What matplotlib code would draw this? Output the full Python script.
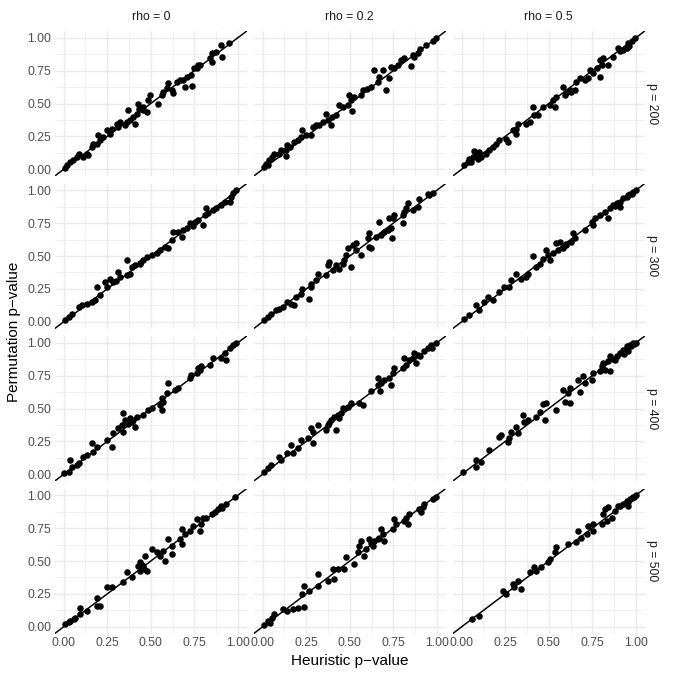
import matplotlib
matplotlib.use("Agg")
import matplotlib.pyplot as plt

plt.rcParams['font.family'] = ['Liberation Sans', 'DejaVu Sans']

col_labels = ["rho = 0", "rho = 0.2", "rho = 0.5"]
row_labels = ["p = 200", "p = 300", "p = 400", "p = 500"]
tick_vals = [0.0, 0.25, 0.5, 0.75, 1.0]
tick_text = ["0.00", "0.25", "0.50", "0.75", "1.00"]

# ---- p = 200 ----
x_p200_r0 = [0.947, 0.90, 0.872, 0.853, 0.91, 0.838, 0.848, 0.771, 0.762, 0.749, 0.733, 0.737, 0.705, 0.686, 0.695, 0.667, 0.648,
             0.60, 0.59, 0.571, 0.629, 0.562, 0.543, 0.495, 0.486, 0.476, 0.457, 0.429, 0.434, 0.423, 0.40, 0.41, 0.371, 0.381, 0.362,
             0.324, 0.314, 0.305, 0.276, 0.248, 0.229, 0.20, 0.21, 0.19, 0.171, 0.162, 0.133, 0.143, 0.114, 0.086, 0.076, 0.057, 0.038, 0.019, 0.01,
             0.455, 0.35, 0.265, 0.62, 0.78]
y_p200_r0 = [0.957, 0.945, 0.893, 0.88, 0.855, 0.843, 0.817, 0.792, 0.772, 0.766, 0.716, 0.635, 0.703, 0.678, 0.627, 0.678, 0.665,
             0.652, 0.614, 0.589, 0.576, 0.563, 0.50, 0.563, 0.525, 0.437, 0.475, 0.50, 0.462, 0.424, 0.398, 0.348, 0.449, 0.373, 0.36,
             0.36, 0.322, 0.348, 0.31, 0.297, 0.246, 0.259, 0.221, 0.195, 0.195, 0.17, 0.119, 0.107, 0.094, 0.119, 0.094, 0.069, 0.056, 0.03, 0.01,
             0.45, 0.34, 0.27, 0.60, 0.79]

x_p200_r2 = [0.994, 0.975, 0.937, 0.904, 0.889, 0.87, 0.851, 0.813, 0.793, 0.774, 0.755, 0.736, 0.727, 0.707, 0.688, 0.641, 0.669, 0.66,
             0.621, 0.574, 0.564, 0.526, 0.497, 0.507, 0.488, 0.459, 0.44, 0.511, 0.421, 0.40, 0.363, 0.373, 0.392, 0.344, 0.325, 0.306,
             0.287, 0.277, 0.229, 0.22, 0.201, 0.182, 0.143, 0.134, 0.105, 0.096, 0.067, 0.057, 0.134, 0.038, 0.019, 0.029, 0.006,
             0.25, 0.16, 0.60, 0.86]
y_p200_r2 = [0.995, 0.975, 0.944, 0.914, 0.881, 0.855, 0.787, 0.848, 0.83, 0.792, 0.766, 0.779, 0.69, 0.60, 0.754, 0.754, 0.703, 0.665,
             0.627, 0.60, 0.563, 0.551, 0.563, 0.525, 0.487, 0.475, 0.487, 0.442, 0.411, 0.398, 0.424, 0.373, 0.335, 0.36, 0.335, 0.335,
             0.322, 0.259, 0.297, 0.246, 0.221, 0.208, 0.183, 0.145, 0.145, 0.119, 0.119, 0.094, 0.10, 0.069, 0.043, 0.03, 0.018,
             0.26, 0.17, 0.61, 0.87]

x_p200_r5 = [0.994, 0.975, 0.956, 0.946, 0.927, 0.898, 0.869, 0.841, 0.812, 0.793, 0.802, 0.774, 0.735, 0.754, 0.793, 0.726, 0.706, 0.678,
             0.658, 0.651, 0.63, 0.601, 0.582, 0.591, 0.543, 0.524, 0.534, 0.505, 0.466, 0.438, 0.409, 0.418, 0.39, 0.37, 0.322, 0.313,
             0.294, 0.313, 0.265, 0.255, 0.217, 0.198, 0.179, 0.159, 0.14, 0.102, 0.083, 0.073, 0.063, 0.044, 0.035, 0.015, 0.054, 0.111, 0.092,
             0.96, 0.91, 0.62]
y_p200_r5 = [0.995, 0.975, 0.957, 0.919, 0.906, 0.924, 0.855, 0.792, 0.843, 0.83, 0.792, 0.766, 0.754, 0.728, 0.703, 0.69, 0.678, 0.69,
             0.665, 0.60, 0.589, 0.576, 0.627, 0.563, 0.551, 0.525, 0.475, 0.487, 0.475, 0.411, 0.475, 0.411, 0.36, 0.348, 0.348, 0.31,
             0.297, 0.272, 0.208, 0.234, 0.221, 0.195, 0.17, 0.145, 0.119, 0.132, 0.119, 0.137, 0.094, 0.081, 0.056, 0.03, 0.056, 0.094, 0.081,
             0.94, 0.90, 0.60]

# ---- p = 300 ----
x_p300_r0 = [0.99, 0.971, 0.962, 0.952, 0.924, 0.905, 0.876, 0.857, 0.819, 0.829, 0.81, 0.80, 0.771, 0.752, 0.724, 0.705, 0.686, 0.676,
             0.657, 0.629, 0.619, 0.60, 0.581, 0.552, 0.533, 0.505, 0.476, 0.457, 0.438, 0.41, 0.39, 0.362, 0.381, 0.362, 0.314, 0.324,
             0.286, 0.267, 0.248, 0.238, 0.21, 0.19, 0.181, 0.162, 0.133, 0.105, 0.086, 0.048, 0.029, 0.01,
             0.74, 0.44, 0.3]
y_p300_r0 = [1.0, 0.975, 0.949, 0.906, 0.911, 0.886, 0.861, 0.848, 0.861, 0.823, 0.81, 0.734, 0.772, 0.759, 0.747, 0.709, 0.696, 0.646,
             0.684, 0.684, 0.62, 0.557, 0.57, 0.544, 0.519, 0.506, 0.494, 0.468, 0.443, 0.43, 0.418, 0.468, 0.367, 0.354, 0.38, 0.342,
             0.304, 0.329, 0.266, 0.304, 0.203, 0.266, 0.165, 0.152, 0.139, 0.127, 0.114, 0.063, 0.038, 0.013,
             0.73, 0.45, 0.31]

x_p300_r2 = [0.975, 0.956, 0.946, 0.899, 0.889, 0.832, 0.822, 0.813, 0.803, 0.755, 0.746, 0.727, 0.669, 0.803, 0.736, 0.717, 0.698, 0.74,
             0.679, 0.65, 0.612, 0.602, 0.621, 0.612, 0.535, 0.516, 0.488, 0.535, 0.564, 0.478, 0.468, 0.459, 0.507, 0.44, 0.382, 0.373,
             0.402, 0.363, 0.315, 0.306, 0.277, 0.277, 0.229, 0.22, 0.268, 0.191, 0.162, 0.143, 0.182, 0.096, 0.076, 0.048, 0.029, 0.01,
             0.86, 0.42, 0.12]
y_p300_r2 = [0.975, 0.962, 0.967, 0.932, 0.873, 0.899, 0.861, 0.835, 0.81, 0.81, 0.785, 0.785, 0.759, 0.747, 0.709, 0.696, 0.684, 0.638,
             0.658, 0.646, 0.671, 0.633, 0.557, 0.57, 0.595, 0.582, 0.557, 0.544, 0.506, 0.506, 0.468, 0.443, 0.418, 0.405, 0.456, 0.43,
             0.392, 0.354, 0.367, 0.316, 0.291, 0.266, 0.253, 0.215, 0.177, 0.19, 0.139, 0.152, 0.127, 0.101, 0.089, 0.063, 0.038, 0.013,
             0.85, 0.43, 0.11]

x_p300_r5 = [1.0, 0.985, 0.965, 0.946, 0.927, 0.908, 0.889, 0.908, 0.869, 0.85, 0.822, 0.841, 0.793, 0.764, 0.745, 0.754, 0.706, 0.639,
             0.649, 0.63, 0.601, 0.582, 0.562, 0.543, 0.553, 0.524, 0.486, 0.495, 0.505, 0.466, 0.409, 0.447, 0.428, 0.38, 0.37, 0.313,
             0.342, 0.284, 0.274, 0.246, 0.217, 0.179, 0.15, 0.131, 0.083, 0.102, 0.044, 0.015,
             0.975, 0.955, 0.88, 0.60]
y_p300_r5 = [1.0, 0.987, 0.967, 0.949, 0.937, 0.911, 0.899, 0.873, 0.886, 0.861, 0.835, 0.785, 0.81, 0.785, 0.759, 0.734, 0.696, 0.671,
             0.633, 0.608, 0.582, 0.557, 0.608, 0.595, 0.544, 0.519, 0.544, 0.506, 0.468, 0.481, 0.501, 0.443, 0.418, 0.367, 0.342, 0.367,
             0.329, 0.316, 0.266, 0.266, 0.228, 0.165, 0.19, 0.152, 0.127, 0.089, 0.051, 0.025,
             0.97, 0.96, 0.88, 0.59]

# ---- p = 400 ----
x_p400_r0 = [0.99, 0.971, 0.952, 0.924, 0.933, 0.905, 0.857, 0.838, 0.79, 0.771, 0.762, 0.733, 0.724, 0.657, 0.638, 0.60, 0.59, 0.562,
             0.571, 0.552, 0.562, 0.505, 0.486, 0.457, 0.419, 0.40, 0.343, 0.352, 0.381, 0.333, 0.41, 0.314, 0.343, 0.286, 0.248, 0.276,
             0.19, 0.162, 0.171, 0.133, 0.114, 0.086, 0.038, 0.048, 0.029, 0.0,
             0.37, 0.39, 0.08, 0.78]
y_p400_r0 = [1.0, 0.985, 0.959, 0.921, 0.871, 0.883, 0.883, 0.832, 0.82, 0.807, 0.769, 0.756, 0.731, 0.655, 0.642, 0.693, 0.617, 0.579,
             0.553, 0.528, 0.49, 0.503, 0.49, 0.452, 0.439, 0.414, 0.464, 0.414, 0.426, 0.376, 0.363, 0.35, 0.325, 0.312, 0.261, 0.211,
             0.211, 0.236, 0.173, 0.147, 0.135, 0.084, 0.109, 0.058, 0.02, 0.008,
             0.38, 0.40, 0.07, 0.79]

x_p400_r2 = [0.994, 0.966, 0.946, 0.927, 0.889, 0.87, 0.86, 0.88, 0.841, 0.813, 0.822, 0.803, 0.755, 0.746, 0.727, 0.736, 0.698, 0.66,
             0.679, 0.66, 0.675, 0.621, 0.574, 0.555, 0.507, 0.488, 0.459, 0.449, 0.43, 0.411, 0.392, 0.373, 0.421, 0.363, 0.315, 0.277,
             0.287, 0.287, 0.258, 0.22, 0.162, 0.201, 0.172, 0.143, 0.096, 0.105, 0.048, 0.029, 0.01,
             0.97, 0.90, 0.44, 0.38]
y_p400_r2 = [1.0, 0.985, 0.959, 0.934, 0.909, 0.921, 0.883, 0.845, 0.871, 0.883, 0.832, 0.807, 0.807, 0.769, 0.731, 0.68, 0.718, 0.731,
             0.693, 0.68, 0.635, 0.629, 0.528, 0.541, 0.541, 0.515, 0.503, 0.464, 0.452, 0.439, 0.414, 0.376, 0.338, 0.338, 0.376, 0.35,
             0.325, 0.236, 0.274, 0.261, 0.223, 0.198, 0.16, 0.16, 0.135, 0.109, 0.071, 0.046, 0.02,
             0.96, 0.90, 0.43, 0.39]

x_p400_r5 = [1.0, 0.985, 0.965, 0.946, 0.927, 0.956, 0.908, 0.889, 0.85, 0.869, 0.841, 0.812, 0.802, 0.822, 0.85, 0.793, 0.754, 0.745,
             0.697, 0.668, 0.706, 0.678, 0.62, 0.61, 0.582, 0.591, 0.62, 0.543, 0.486, 0.466, 0.447, 0.428, 0.476, 0.38, 0.351, 0.36,
             0.313, 0.322, 0.284, 0.274, 0.265, 0.226, 0.217, 0.159, 0.111, 0.083, 0.083, 0.006,
             0.99, 0.97, 0.95, 0.93, 0.88]
y_p400_r5 = [1.0, 0.997, 0.985, 0.972, 0.947, 0.934, 0.921, 0.896, 0.896, 0.878, 0.858, 0.845, 0.82, 0.794, 0.782, 0.782, 0.769, 0.718,
             0.744, 0.718, 0.693, 0.624, 0.655, 0.617, 0.642, 0.553, 0.541, 0.49, 0.541, 0.533, 0.477, 0.439, 0.414, 0.414, 0.452, 0.401,
             0.363, 0.312, 0.325, 0.274, 0.249, 0.299, 0.287, 0.185, 0.096, 0.109, 0.058, 0.02,
             0.99, 0.975, 0.96, 0.91, 0.87]

# ---- p = 500 ----
x_p500_r0 = [0.981, 0.933, 0.905, 0.886, 0.867, 0.848, 0.819, 0.80, 0.762, 0.79, 0.781, 0.743, 0.724, 0.676, 0.695, 0.676, 0.667, 0.60,
             0.619, 0.619, 0.571, 0.552, 0.581, 0.505, 0.533, 0.467, 0.438, 0.457, 0.429, 0.476, 0.438, 0.39, 0.362, 0.343, 0.276, 0.248,
             0.19, 0.21, 0.19, 0.133, 0.095, 0.095, 0.067, 0.038, 0.01,
             0.46, 0.45, 0.06, 0.03, 0.91]
y_p500_r0 = [0.982, 0.932, 0.919, 0.894, 0.868, 0.856, 0.83, 0.83, 0.818, 0.78, 0.729, 0.767, 0.729, 0.742, 0.704, 0.628, 0.666, 0.666,
             0.615, 0.552, 0.577, 0.539, 0.501, 0.59, 0.565, 0.539, 0.489, 0.463, 0.463, 0.425, 0.425, 0.375, 0.413, 0.337, 0.299, 0.299,
             0.223, 0.159, 0.159, 0.122, 0.147, 0.096, 0.071, 0.046, 0.025,
             0.44, 0.47, 0.06, 0.035, 0.905]

x_p500_r2 = [0.994, 0.975, 0.927, 0.899, 0.908, 0.841, 0.822, 0.832, 0.813, 0.755, 0.765, 0.746, 0.679, 0.688, 0.669, 0.698, 0.641, 0.631,
             0.612, 0.564, 0.593, 0.583, 0.555, 0.545, 0.478, 0.526, 0.468, 0.43, 0.402, 0.411, 0.373, 0.315, 0.315, 0.268, 0.239, 0.229,
             0.239, 0.201, 0.172, 0.143, 0.115, 0.067, 0.057, 0.029, 0.01,
             0.92, 0.62, 0.66, 0.04]
y_p500_r2 = [0.987, 0.97, 0.932, 0.894, 0.868, 0.856, 0.83, 0.78, 0.805, 0.818, 0.78, 0.742, 0.742, 0.704, 0.678, 0.653, 0.653, 0.615,
             0.666, 0.653, 0.59, 0.539, 0.615, 0.565, 0.527, 0.476, 0.438, 0.438, 0.438, 0.362, 0.349, 0.4, 0.311, 0.273, 0.311, 0.248,
             0.152, 0.147, 0.134, 0.122, 0.134, 0.096, 0.071, 0.046, 0.015,
             0.91, 0.64, 0.67, 0.03]

x_p500_r5 = [1.0, 0.985, 0.965, 0.946, 0.927, 0.956, 0.898, 0.879, 0.841, 0.821, 0.812, 0.86, 0.831, 0.802, 0.754, 0.726, 0.754, 0.716,
             0.668, 0.687, 0.658, 0.61, 0.543, 0.534, 0.505, 0.495, 0.457, 0.418, 0.428, 0.39, 0.322, 0.294, 0.303, 0.342, 0.236, 0.255,
             0.102, 0.06,
             0.99, 0.975, 0.955, 0.91]
y_p500_r5 = [1.0, 0.987, 0.97, 0.957, 0.932, 0.919, 0.919, 0.881, 0.906, 0.894, 0.856, 0.83, 0.805, 0.78, 0.78, 0.767, 0.729, 0.704,
             0.729, 0.678, 0.641, 0.628, 0.603, 0.565, 0.514, 0.496, 0.451, 0.451, 0.425, 0.413, 0.349, 0.324, 0.299, 0.286, 0.273, 0.248,
             0.084, 0.058,
             0.985, 0.975, 0.945, 0.915]

panels = [
    [(x_p200_r0, y_p200_r0), (x_p200_r2, y_p200_r2), (x_p200_r5, y_p200_r5)],
    [(x_p300_r0, y_p300_r0), (x_p300_r2, y_p300_r2), (x_p300_r5, y_p300_r5)],
    [(x_p400_r0, y_p400_r0), (x_p400_r2, y_p400_r2), (x_p400_r5, y_p400_r5)],
    [(x_p500_r0, y_p500_r0), (x_p500_r2, y_p500_r2), (x_p500_r5, y_p500_r5)],
]

W = H = 676
fig = plt.figure(figsize=(W / 100, H / 100), dpi=100)
fig.patch.set_facecolor("white")

col_left = [54.8, 253.8, 452.8]
pw = 192.0
row_top = [31.0, 183.5, 336.0, 488.5]
ph = 145.0
grid_col = "#EBEBEB"
minor_vals = [0.125, 0.375, 0.625, 0.875]

for i in range(4):
    for j in range(3):
        l = col_left[j] / W
        b = 1 - (row_top[i] + ph) / H
        ax = fig.add_axes([l, b, pw / W, ph / H])
        ax.set_xlim(-0.05, 1.05)
        ax.set_ylim(-0.05, 1.05)
        for s in ax.spines.values():
            s.set_visible(False)
        for v in minor_vals:
            ax.axvline(v, color=grid_col, lw=0.55, zorder=0)
            ax.axhline(v, color=grid_col, lw=0.55, zorder=0)
        for v in tick_vals:
            ax.axvline(v, color=grid_col, lw=1.07, zorder=0)
            ax.axhline(v, color=grid_col, lw=1.07, zorder=0)
        xs, ys = panels[i][j]
        ax.scatter(xs, ys, s=22, color="black", linewidths=0, zorder=2)
        ax.axline((0, 0), slope=1, color="black", lw=1.07, zorder=3)
        ax.set_xticks(tick_vals)
        ax.set_yticks(tick_vals)
        ax.tick_params(length=0, labelsize=8.8, labelcolor="#4D4D4D", pad=2.5)
        if j == 0:
            ax.set_yticklabels(tick_text)
        else:
            ax.set_yticklabels([])
        if i == 3:
            ax.set_xticklabels(tick_text)
        else:
            ax.set_xticklabels([])
        if i == 0:
            ax.text(0.5, 1.0 + 13.5 / ph, col_labels[j], transform=ax.transAxes,
                    ha="center", va="center", fontsize=8.8, color="#1A1A1A")
        if j == 2:
            ax.text(1.0 + 7.5 / pw, 0.5, row_labels[i], transform=ax.transAxes,
                    ha="center", va="center", rotation=-90, fontsize=8.8, color="#1A1A1A")

fig.text(349.5 / W, 1 - 661 / H, "Heuristic p\u2212value", ha="center", va="center", fontsize=11, color="black")
fig.text(14 / W, 1 - 332 / H, "Permutation p\u2212value", ha="center", va="center", rotation=90, fontsize=11, color="black")

fig.savefig("out.png", dpi=100, facecolor="white")
